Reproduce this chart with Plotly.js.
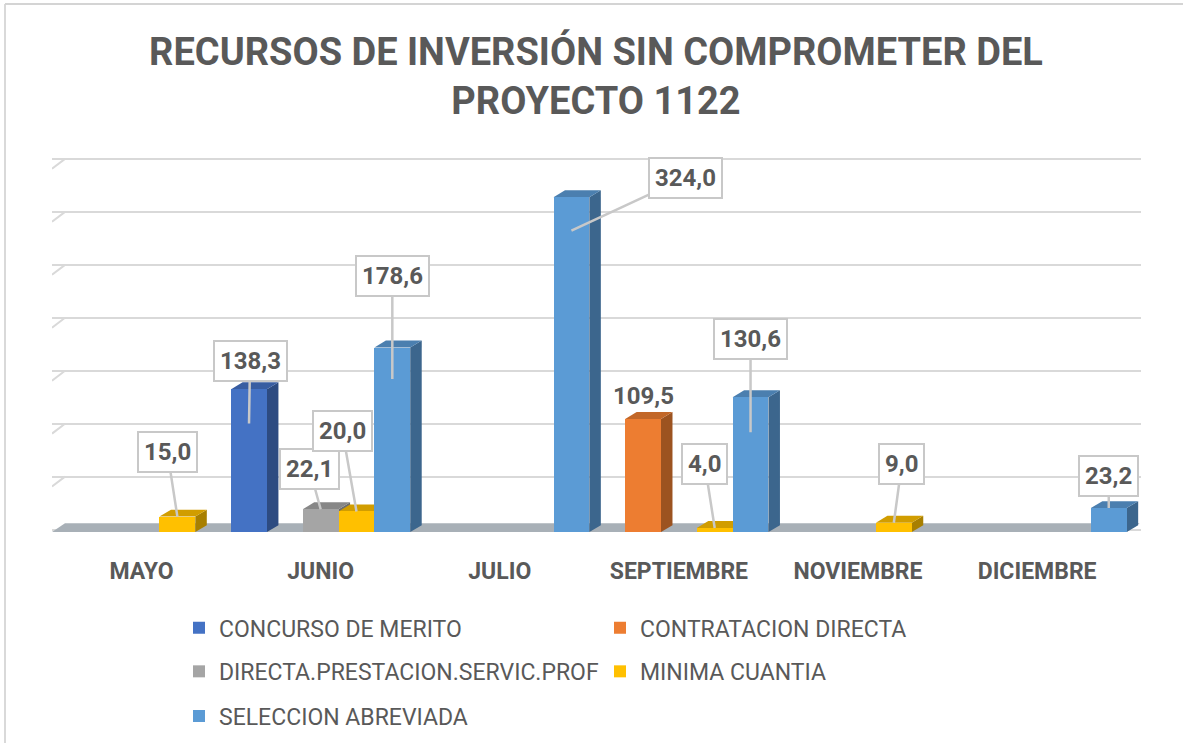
<!DOCTYPE html>
<html><head><meta charset="utf-8">
<script src="https://cdn.plot.ly/plotly-3.0.1.min.js"></script>
<style>html,body{margin:0;padding:0;background:#fff}#chart{width:1183px;height:749px}</style>
</head><body><div id="chart"></div>
<script>
// ---------- DATA ----------
const categories = ['MAYO','JUNIO','JULIO','SEPTIEMBRE','NOVIEMBRE','DICIEMBRE'];
const seriesNames = ['CONCURSO DE MERITO','CONTRATACION DIRECTA','DIRECTA.PRESTACION.SERVIC.PROF','MINIMA CUANTIA','SELECCION ABREVIADA'];
const concursoDeMerito    = [null, 138.3, null, null, null, null];
const contratacionDirecta = [null, null, null, 109.5, null, null];
const directaPrestacion   = [null, 22.1, null, null, null, null];
const minimaCuantia       = [15.0, 20.0, null, 4.0, 9.0, null];
const seleccionAbreviada  = [null, 178.6, 324.0, 130.6, null, 23.2];
const seriesValues = [concursoDeMerito, contratacionDirecta, directaPrestacion, minimaCuantia, seleccionAbreviada];
const titleText = 'RECURSOS DE INVERSIÓN SIN COMPROMETER DEL<br>PROYECTO 1122';

// ---------- STYLE ----------
const colors = ['#4472C4','#ED7D31','#A5A5A5','#FFC000','#5B9BD5'];
const legendOf = ['legend','legend','legend2','legend2','legend3'];
// label placement: [series, category, tip fraction of value, ax px, ay px] ; tip<0 => plain label
const labelPlacement = [
  [3,0,1.0,-10,-65],
  [0,1,0.76,1,-62],
  [2,1,1.0,-11,-40],
  [3,1,1.0,-14,-80],
  [4,1,0.83,0,-103],
  [4,2,0.9,114,-53],
  [1,3,-1,0,0],
  [3,3,1.0,-10,-64],
  [4,3,0.74,0,-93],
  [3,4,1.0,8,-59],
  [4,5,1.0,0,-32]
];

const W=1183,H=749,ML=52,MR=42,MT=150,MB=204;
const plotW=W-ML-MR, plotH=H-MT-MB;
const xMin=-0.5, xMax=5.58;
const catW=plotW/(xMax-xMin);
const basePx=H-MB-9, pxU=1.044;          // bars axis
const gridBasePx=533.5, gridPxU=1.07;   // back wall axis
const bottomPx=H-MB, topPx=MT;
const yRange=[-(bottomPx-basePx)/pxU,(basePx-topPx)/pxU];
const y2Range=[-(bottomPx-gridBasePx)/gridPxU,(gridBasePx-topPx)/gridPxU];
const DX=11.5/catW, DY=7/pxU, FDX=13/catW, FDY=9/pxU;
const nS=seriesValues.length, bw=1/nS;

function shade(hex,f){
  const n=parseInt(hex.slice(1),16);
  const r=Math.round(((n>>16)&255)*f),g=Math.round(((n>>8)&255)*f),b=Math.round((n&255)*f);
  return 'rgb('+r+','+g+','+b+')';
}
const xIdx=categories.map((c,i)=>i);
const barCenter=(s,c)=>c+(s-(nS-1)/2)*bw;
const fmt=v=>v.toFixed(1).replace('.',',');

// ---------- TRACES ----------
const traces=seriesNames.map((name,s)=>({
  type:'bar', name:name, x:xIdx, y:seriesValues[s],
  marker:{color:colors[s],line:{width:0}},
  legend:legendOf[s], hoverinfo:'skip'
}));
traces.push({type:'scatter',x:[null],y:[null],yaxis:'y2',showlegend:false,hoverinfo:'skip',mode:'markers'});

// ---------- SHAPES (3D faces, floor, frame) ----------
const shapes=[];
shapes.push({type:'rect',xref:'x',yref:'paper',x0:xMin,x1:xMin+FDX,y0:0,y1:1,fillcolor:'#ffffff',line:{width:0},layer:'between'});
[50,100,150,200,250,300,350].forEach(g=>{
  const yb=(basePx-(gridBasePx-gridPxU*g))/pxU;
  shapes.push({type:'line',xref:'x',yref:'y',x0:xMin,x1:xMin+FDX,y0:yb-10/pxU,y1:yb,line:{color:'#d9d9d9',width:2},layer:'between'});
});
shapes.push({type:'path',xref:'x',yref:'y',layer:'between',
  path:`M${-0.5},0 L${-0.5+FDX},${FDY} L${5.5+FDX},${FDY} L${5.5},0 Z`,
  fillcolor:'#a8b0b7',line:{width:0}});
for(let c=0;c<categories.length;c++){
  for(let s=0;s<nS;s++){
    const v=seriesValues[s][c];
    if(v===null||v===undefined) continue;
    const x0=barCenter(s,c)-bw/2, x1=x0+bw;
    shapes.push({type:'path',xref:'x',yref:'y',layer:'between',line:{width:0},fillcolor:shade(colors[s],0.66),
      path:`M${x1},0 L${x1+DX},${DY} L${x1+DX},${v+DY} L${x1},${v} Z`});
    shapes.push({type:'path',xref:'x',yref:'y',layer:'between',line:{width:0},fillcolor:shade(colors[s],0.82),
      path:`M${x0},${v} L${x0+DX},${v+DY} L${x1+DX},${v+DY} L${x1},${v} Z`});
  }
}
const px2paperX=px=>(px-ML)/plotW, px2paperY=py=>(H-MB-py)/plotH;
shapes.push({type:'line',xref:'paper',yref:'paper',x0:px2paperX(5),x1:px2paperX(5),y0:px2paperY(2.5),y1:px2paperY(H),line:{color:'#d9d9d9',width:2}});
shapes.push({type:'line',xref:'paper',yref:'paper',x0:px2paperX(5),x1:px2paperX(W),y0:px2paperY(2.5),y1:px2paperY(2.5),line:{color:'#d4d4d4',width:2}});

// ---------- ANNOTATIONS ----------
const labelFont={family:'Roboto, Arial, sans-serif',size:24,color:'#595959',weight:700};
const annotations=labelPlacement.map(([s,c,tip,ax,ay])=>{
  const v=seriesValues[s][c];
  if(tip<0){
    return {xref:'x',yref:'y',x:barCenter(s,c),y:v+DY,text:'<b>'+fmt(v)+'</b>',showarrow:false,
      yanchor:'bottom',yshift:0,font:labelFont};
  }
  return {xref:'x',yref:'y',x:barCenter(s,c),y:v*tip,text:'<b>'+fmt(v)+'</b>',showarrow:true,
    arrowhead:0,arrowwidth:2.5,arrowcolor:'#c8c8c8',ax:ax,ay:ay,
    bgcolor:'#ffffff',bordercolor:'#c8c8c8',borderwidth:2,borderpad:5,font:labelFont};
});

// ---------- LAYOUT ----------
const legendBase={orientation:'h',xanchor:'left',yanchor:'top',bgcolor:'rgba(0,0,0,0)',
  font:{family:'Roboto, Arial, sans-serif',size:23,color:'#595959'},entrywidth:376,entrywidthmode:'pixels',itemclick:false,itemdoubleclick:false};
const layout={
  width:W,height:H,margin:{l:ML,r:MR,t:MT,b:MB},
  paper_bgcolor:'#ffffff',plot_bgcolor:'rgba(0,0,0,0)',
  title:{text:titleText,font:{family:'Roboto, Arial, sans-serif',size:38,color:'#595959',weight:700},
    x:596/W,xanchor:'center',xref:'container',y:1-65/H,yanchor:'top',yref:'container'},
  barmode:'group',bargap:0,bargroupgap:0,
  xaxis:{type:'linear',range:[xMin,xMax],tickvals:xIdx,ticktext:categories,showgrid:false,zeroline:false,showline:false,
    ticks:'',ticklabelstandoff:14,tickfont:{family:'Roboto, Arial, sans-serif',size:23,color:'#595959',weight:700},fixedrange:true},
  yaxis:{range:yRange,showgrid:false,zeroline:false,showticklabels:false,ticks:'',fixedrange:true},
  yaxis2:{range:y2Range,overlaying:'y',side:'left',showgrid:true,gridcolor:'#d9d9d9',gridwidth:2,tick0:0,dtick:50,
    zeroline:false,showticklabels:false,ticks:'',fixedrange:true},
  showlegend:true,
  legend:Object.assign({},legendBase,{x:px2paperX(179),y:px2paperY(611)}),
  legend2:Object.assign({},legendBase,{x:px2paperX(179),y:px2paperY(655)}),
  legend3:Object.assign({},legendBase,{x:px2paperX(179),y:px2paperY(700)}),
  shapes:shapes,annotations:annotations
};
Plotly.newPlot('chart',traces,layout,{displayModeBar:false,staticPlot:true});
</script></body></html>
